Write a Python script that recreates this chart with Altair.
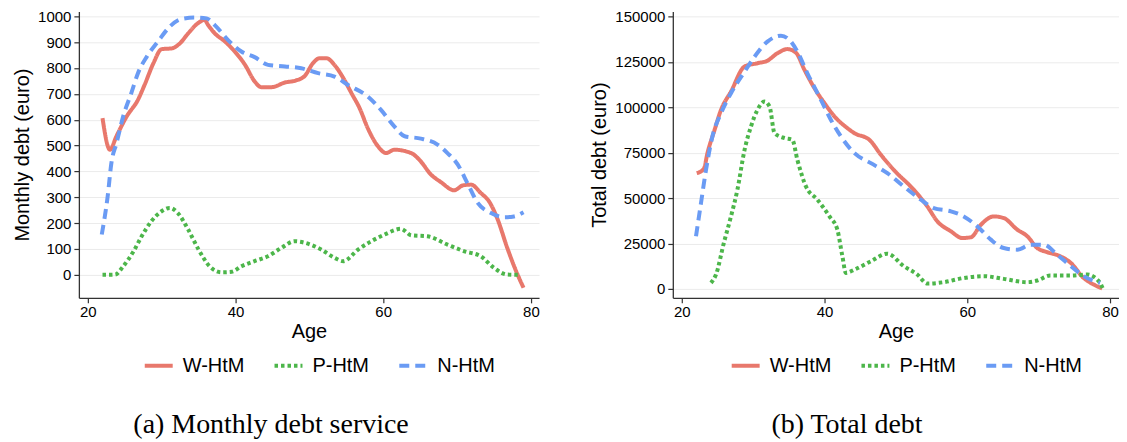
import altair as alt
import pandas as pd

SERIES = ["W-HtM", "P-HtM", "N-HtM"]
COLORS = ["#E8786C", "#4CB64A", "#6A9BF4"]
DASHES = [[1, 0], [3.5, 3], [10, 6]]

# ---- Panel (a): monthly debt service ----
w_m_age = [22, 23, 23.9, 25.3, 26.8, 27.7, 28.9, 30, 31.4, 32.5, 33.6, 35, 35.8, 36.3, 37.2, 38.6, 39.9,
           41.3, 42.6, 43.5, 44.9, 46.7, 48.2, 49.4, 50.5, 51.4, 52.3, 53.4, 54.6, 55.7, 56.8, 57.9, 59.3,
           60.4, 61.5, 63.8, 64.9, 66.5, 67.8, 69.6, 70.8, 71.9, 73.2, 74.4, 75.5, 76.8, 78, 79]
w_m_val = [606, 484, 537, 614, 677, 735, 819, 873, 876, 896, 934, 975, 986, 966, 934, 902, 864,
           812, 748, 726, 726, 744, 752, 770, 819, 838, 838, 812, 761, 703, 645, 568, 497,
           471, 484, 471, 445, 387, 359, 327, 346, 349, 317, 281, 214, 104, 14, -50]

p_m_age = [22, 23.7, 24.8, 26.2, 27.3, 28.6, 30, 31.1, 32.2, 33.6, 35, 36.5, 38.1, 39.5, 40.8, 42.6,
           44.4, 46.2, 48, 49.4, 51.6, 53.4, 54.6, 56.6, 58.4, 60.2, 62.4, 63.8, 66, 68.7, 71, 73.2,
           75, 76.8, 78.4]
p_m_val = [0, 1, 33, 91, 149, 207, 246, 259, 239, 175, 98, 33, 10, 12, 33, 53,
           72, 104, 130, 124, 98, 66, 53, 98, 130, 156, 178, 153, 149, 117, 91, 72,
           27, 1, 0]

n_m_age = [21.9, 22.7, 23.2, 23.9, 24.8, 25.9, 26.8, 28, 29.5, 31.1, 32.7, 34.5, 36.1, 37.2, 39, 40.8,
           42.6, 44.4, 46.7, 48.9, 51.2, 53.4, 55.2, 57.9, 59.7, 61.5, 62.9, 65.1, 67.4, 68.7, 70.1,
           71.4, 72.8, 74.6, 76.4, 77.7, 79]
n_m_val = [156, 304, 432, 510, 613, 703, 780, 844, 902, 960, 990, 995, 992, 966, 908, 864,
           842, 812, 806, 799, 780, 767, 735, 690, 638, 574, 536, 527, 503, 471, 426,
           355, 278, 239, 223, 226, 242]

# ---- Panel (b): total debt ----
w_t_age = [22.1, 23.1, 23.6, 24.6, 25.5, 26.9, 28.8, 30.6, 32, 33.4, 34.8, 36, 37.2, 38.6, 40, 41.4,
           43.2, 44.2, 46.3, 47.9, 49.7, 52.5, 54.4, 55.8, 57.7, 59.3, 60.5, 61.9, 63.7, 65.1, 67,
           68.4, 69.8, 71.2, 73, 74.5, 76.3, 77.7, 78.9]
w_t_val = [63700, 66100, 74700, 87500, 98500, 108600, 122400, 124200, 125600, 129700, 132000, 130000,
           120500, 110400, 102200, 94900, 88500, 85700, 82000, 73800, 65500, 54600, 45400, 37200,
           31700, 28000, 28400, 35300, 39900, 39000, 32600, 29000, 22500, 20200, 18000, 14300, 6000,
           2400, 200]

p_t_age = [24.1, 24.8, 25.9, 26.9, 27.8, 28.8, 29.7, 30.6, 31.6, 32.3, 33, 34.4, 35.5, 36.2, 37.4, 39,
           40.7, 41.8, 42.5, 43, 44.2, 46.5, 48.8, 51.1, 53, 54.4, 56.7, 59.5, 62.3, 65.1, 68.4, 69.8,
           71.6, 74.5, 76.8, 78.6, 79]
p_t_val = [3300, 7900, 25300, 39900, 54600, 76500, 89400, 98500, 103100, 100400, 85700, 83000, 82000,
           71000, 56400, 49100, 39900, 32600, 18000, 8800, 10600, 15200, 19400, 12500, 7900, 2900, 3700,
           6000, 7000, 5500, 3700, 4600, 7300, 7300, 7900, 3300, 0]

n_t_age = [22, 22.7, 23.4, 24.3, 25.5, 26.9, 28.8, 30.2, 32, 33.9, 35.3, 36.2, 37.6, 39.5, 40.9, 42.3,
           44.2, 46.5, 48.8, 51.1, 53.5, 55.3, 57.7, 59.5, 61.4, 63.3, 65.1, 67, 68.9, 70.7, 72.6, 74.5,
           76.3, 78.6]
n_t_val = [29000, 47300, 65500, 83900, 96700, 107700, 119600, 127800, 136100, 139400, 136100, 130600,
           118700, 104000, 93000, 83900, 74700, 69200, 63700, 56400, 49100, 44500, 42700, 39900, 34400,
           27100, 22500, 21600, 24300, 24300, 18800, 12500, 7000, 3300]

X_TICKS = [20, 40, 60, 80]
Y_TICKS_A = [0, 100, 200, 300, 400, 500, 600, 700, 800, 900, 1000]
Y_TICKS_B = [0, 25000, 50000, 75000, 100000, 125000, 150000]


def make_df(parts):
    rows = []
    for name, ages, vals in parts:
        for i, (a, v) in enumerate(zip(ages, vals)):
            rows.append({"series": name, "age": a, "value": v, "order": i})
    return pd.DataFrame(rows)


df_a = make_df([("W-HtM", w_m_age, w_m_val), ("P-HtM", p_m_age, p_m_val), ("N-HtM", n_m_age, n_m_val)])
df_b = make_df([("W-HtM", w_t_age, w_t_val), ("P-HtM", p_t_age, p_t_val), ("N-HtM", n_t_age, n_t_val)])

SANS = "Liberation Sans"


def panel(df, ytitle, ydomain, yticks, xdomain, caption, width, legend_x, dx):
    legend = alt.Legend(
        title=None, orient="none", direction="horizontal", legendX=legend_x, legendY=339,
        symbolType="stroke", symbolSize=784, symbolStrokeWidth=4, labelFont=SANS,
        labelFontSize=20, labelColor="black", labelOffset=8, columnPadding=22,
    )
    return alt.Chart(df).mark_line(strokeWidth=4, interpolate="monotone", strokeCap="butt").encode(
        x=alt.X("age:Q", scale=alt.Scale(domain=xdomain, nice=False, zero=False),
                axis=alt.Axis(values=X_TICKS, title="Age", grid=False, labelPadding=2,
                              titlePadding=2, format="d")),
        y=alt.Y("value:Q", scale=alt.Scale(domain=ydomain, nice=False, zero=False),
                axis=alt.Axis(values=yticks, title=ytitle, grid=True, format="d",
                              labelPadding=3, titlePadding=5)),
        color=alt.Color("series:N", scale=alt.Scale(domain=SERIES, range=COLORS), legend=legend),
        strokeDash=alt.StrokeDash("series:N", scale=alt.Scale(domain=SERIES, range=DASHES), legend=legend),
        order="order:Q",
    ).properties(
        width=width, height=287,
        title=alt.TitleParams(caption, orient="bottom", anchor="middle", font="Liberation Serif",
                              fontSize=28, fontWeight="normal", color="black", offset=35, dx=dx),
    )


left = panel(df_a, "Monthly debt (euro)", [-89, 1019], Y_TICKS_A, [18.8, 81.1],
             "(a) Monthly debt service", 461, 64, -38)
right = panel(df_b, "Total debt (euro)", [-4945, 152750], Y_TICKS_B, [18.75, 81.25],
              "(b) Total debt", 447, 57, -49)

chart = alt.hconcat(left, right, spacing=49).resolve_scale(
    y="independent", x="independent", color="shared", strokeDash="shared"
).resolve_legend(color="independent", strokeDash="independent").properties(
    padding={"left": 4, "top": 0, "right": 0, "bottom": 0}
).configure_view(stroke=None).configure_axis(
    domainColor="#333333", domainWidth=1.3, tickColor="#333333", tickSize=5, tickWidth=1.2,
    labelFont=SANS, labelFontSize=15, labelColor="black", titleFont=SANS, titleFontSize=20,
    titleFontWeight="normal", titleColor="black", gridColor="#ebebeb", gridWidth=1,
).configure_legend(padding=0)

chart.save("out.html", embed_options={"renderer": "svg", "actions": False})
